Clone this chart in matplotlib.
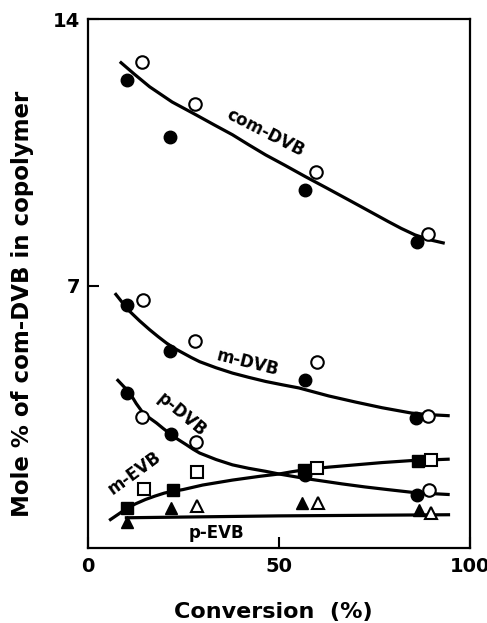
import numpy as np
import matplotlib.pyplot as plt

# measured points (conversion %, mole %)
com_f_x = [10.3, 21.4, 56.8, 86.0]
com_f_y = [12.4, 10.9, 9.5, 8.14]
com_o_x = [14.2, 27.9, 59.7, 89.1]
com_o_y = [12.88, 11.77, 9.99, 8.35]

mdvb_f_x = [10.3, 21.4, 56.8, 85.8]
mdvb_f_y = [6.49, 5.27, 4.53, 3.52]
mdvb_o_x = [14.4, 28.1, 60.0, 89.1]
mdvb_o_y = [6.62, 5.53, 4.98, 3.58]

pdvb_f_x = [10.1, 21.6, 56.8, 86.0]
pdvb_f_y = [4.18, 3.1, 2.03, 1.51]
pdvb_o_x = [14.2, 28.3, 89.2]
pdvb_o_y = [3.56, 2.88, 1.62]

mevb_f_x = [10.3, 22.1, 56.5, 86.3]
mevb_f_y = [1.16, 1.64, 2.16, 2.38]
mevb_o_x = [14.6, 28.5, 60.0, 89.9]
mevb_o_y = [1.66, 2.09, 2.21, 2.42]

pevb_f_x = [10.3, 21.6, 56.1, 86.6]
pevb_f_y = [0.78, 1.16, 1.3, 1.11]
pevb_o_x = [28.5, 60.2, 89.9]
pevb_o_y = [1.2, 1.3, 1.03]

# hand-drawn curves
com_cx = [8.3, 12.0, 16.1, 22.0, 28.3, 33.0, 37.8, 42.0, 46.5, 51.5, 56.9, 62.5, 68.2, 73.5, 78.6, 82.0, 85.6, 89.5, 93.4]
com_cy = [12.88, 12.56, 12.22, 11.82, 11.48, 11.22, 10.96, 10.7, 10.43, 10.16, 9.86, 9.56, 9.25, 8.96, 8.68, 8.5, 8.33, 8.2, 8.11]
mdvb_cx = [7.0, 8.9, 10.9, 13.5, 16.1, 18.3, 20.5, 22.6, 24.8, 27.0, 29.2, 33.5, 37.8, 42.0, 46.5, 51.0, 55.2, 57.8, 63.0, 70.0, 77.0, 84.7, 89.0, 94.7]
mdvb_cy = [6.8, 6.56, 6.32, 6.07, 5.84, 5.66, 5.49, 5.35, 5.23, 5.11, 5.0, 4.84, 4.7, 4.59, 4.48, 4.39, 4.31, 4.24, 4.1, 3.94, 3.79, 3.65, 3.61, 3.58]
pdvb_cx = [7.5, 9.2, 10.9, 12.6, 14.4, 16.1, 17.9, 19.6, 21.4, 23.5, 25.7, 27.5, 29.2, 33.5, 37.8, 42.0, 46.5, 50.0, 53.5, 57.0, 60.4, 66.5, 72.5, 78.5, 84.7, 89.0, 94.7]
pdvb_cy = [4.54, 4.36, 4.18, 3.9, 3.65, 3.52, 3.39, 3.25, 3.11, 2.96, 2.82, 2.7, 2.6, 2.43, 2.29, 2.2, 2.12, 2.05, 1.99, 1.93, 1.88, 1.79, 1.71, 1.64, 1.57, 1.54, 1.51]
mevb_cx = [5.5, 8.0, 10.3, 12.5, 15.0, 17.5, 20.0, 22.4, 24.8, 30.0, 37.8, 45.0, 50.0, 53.4, 58.0, 63.0, 70.0, 77.0, 84.3, 89.5, 94.7]
mevb_cy = [0.83, 1.0, 1.16, 1.27, 1.38, 1.47, 1.55, 1.6, 1.64, 1.76, 1.89, 1.99, 2.05, 2.11, 2.18, 2.23, 2.29, 2.35, 2.4, 2.42, 2.44]
pevb_cx = [9.6, 50.0, 94.8]
pevb_cy = [0.9, 0.95, 0.98]

plt.rcParams['font.family'] = 'DejaVu Sans'
plt.rcParams['font.weight'] = 'bold'

fig = plt.figure(figsize=(4.87, 6.23), dpi=100)
ax = fig.add_axes([0.181, 0.120, 0.784, 0.8495])

lw = 2.3
for cx, cy in [(com_cx, com_cy), (mdvb_cx, mdvb_cy), (pdvb_cx, pdvb_cy),
               (mevb_cx, mevb_cy), (pevb_cx, pevb_cy)]:
    ax.plot(cx, cy, color='black', lw=lw, solid_capstyle='butt',
            solid_joinstyle='round', zorder=2)

ms = 9
for fx, fy, ox, oy, m in [
        (com_f_x, com_f_y, com_o_x, com_o_y, 'o'),
        (mdvb_f_x, mdvb_f_y, mdvb_o_x, mdvb_o_y, 'o'),
        (pdvb_f_x, pdvb_f_y, pdvb_o_x, pdvb_o_y, 'o'),
        (mevb_f_x, mevb_f_y, mevb_o_x, mevb_o_y, 's'),
        (pevb_f_x, pevb_f_y, pevb_o_x, pevb_o_y, '^')]:
    s = ms if m == 'o' else ms - 0.5
    ax.plot(ox, oy, m, ms=s, mfc='white', mec='black', mew=1.5, zorder=3)
    ax.plot(fx, fy, m, ms=s, mfc='black', mec='black', zorder=4)

lab = dict(fontsize=12, fontweight='bold', ha='center', va='center')
ax.text(46.3, 11.0, 'com-DVB', rotation=-27, **lab)
ax.text(41.7, 4.97, 'm-DVB', rotation=-14, **lab)
ax.text(24.4, 3.6, 'p-DVB', rotation=-40, **lab)
ax.text(12.2, 2.08, 'm-EVB', rotation=36, **lab)
ax.text(33.6, 0.5, 'p-EVB', **lab)

ax.set_xlim(0, 100)
ax.set_ylim(0.1, 14)
ax.set_xticks([0, 50, 100])
ax.set_yticks([7, 14])
ax.tick_params(direction='in', length=8, width=1.5, labelsize=14, pad=6)
for t in ax.get_xticklabels() + ax.get_yticklabels():
    t.set_fontweight('bold')
for sp in ax.spines.values():
    sp.set_linewidth(1.6)

ax.set_xlabel('Conversion  (%)', fontsize=16, fontweight='bold', va='center')
ax.set_ylabel('Mole % of com-DVB in copolymer', fontsize=16.5, fontweight='bold', va='center')
ax.xaxis.set_label_coords(0.484, -0.121)
ax.yaxis.set_label_coords(-0.173, 0.461)

fig.savefig('out.png', dpi=100)
